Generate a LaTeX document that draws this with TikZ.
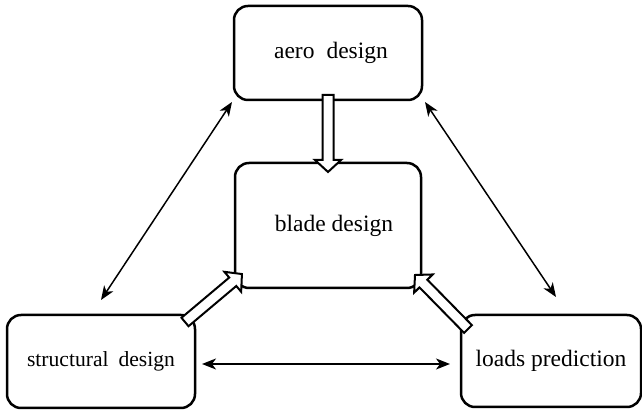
\documentclass[tikz,border=0pt]{standalone}
\usepackage{fontspec}
\setmainfont{Liberation Serif}
\usetikzlibrary{arrows.meta,calc}
\tikzset{
 box/.style={draw, line width=1.25pt, rounded corners=7pt, align=center, outer sep=0pt, inner sep=0pt, font=\fontsize{11.75}{14}\selectfont},
 twoway/.style={line width=0.75pt, {Stealth[length=7pt,width=5.5pt,inset=2pt]}-{Stealth[length=7pt,width=5.5pt,inset=2pt]}},
 hollow/.style={draw, line width=1pt, fill=white, line join=miter},
}
\newcommand\hollowarrow[2]{%
 \path[hollow] let \p1=#1, \p2=#2, \n1={atan2(\y2-\y1,\x2-\x1)}, \n2={veclen(\x2-\x1,\y2-\y1)} in
 [shift={(\p1)}, rotate=\n1] (0pt,-2.75pt) -- ({\n2-6pt},-2.75pt) -- ({\n2-6pt},-6.5pt) -- ({\n2+0pt},0pt) -- ({\n2-6pt},6.5pt) -- ({\n2-6pt},2.75pt) -- (0pt,2.75pt) -- cycle;}
\begin{document}
\begin{tikzpicture}[x=0.5pt,y=-0.5pt]
\useasboundingbox (0,0) rectangle (642,410);
\node[box, minimum width=94pt, minimum height=47pt] (aero) at (328,53) {\hspace{3pt}aero\hspace{6pt}design};
\node[box, minimum width=93pt, minimum height=62.5pt] (blade) at (328,225.5) {\hspace{6pt}blade design};
\node[box, minimum width=94pt, minimum height=46.5pt, font=\fontsize{10.8}{13}\selectfont] (struct) at (101,361.5) {\raisebox{-2pt}{structural\hspace{5pt}design}};
\node[box, minimum width=90pt, minimum height=46pt] (loads) at (551,361) {\raisebox{-1pt}{loads prediction}};
\draw[twoway] ([shift={(-2,2)}]aero.south west) -- ([shift={(0,-15)}]struct.north);
\draw[twoway] ([shift={(3,2)}]aero.south east) -- ([shift={(5,-18)}]loads.north);
\draw[twoway] ([shift={(7,2.5)}]struct.east) -- ([shift={(-11,3)}]loads.west);
\hollowarrow{([shift={(0,-5)}]aero.south)}{([shift={(0,9)}]blade.north)}
\hollowarrow{([shift={(-10,7)}]struct.north east)}{([shift={(7,-14)}]blade.south west)}
\hollowarrow{([shift={(7,14)}]loads.north west)}{([shift={(-6,-13)}]blade.south east)}
\end{tikzpicture}
\end{document}
